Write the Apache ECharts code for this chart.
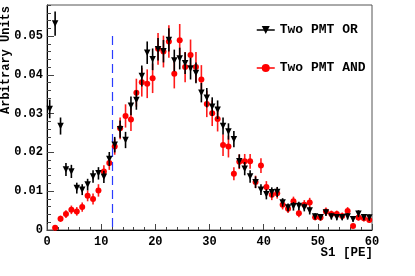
<!DOCTYPE html>
<html>
<head>
<meta charset="utf-8">
<script src="https://cdn.jsdelivr.net/npm/echarts@6/dist/echarts.min.js"></script>
<style>html,body{margin:0;padding:0;background:#fff;}#c{width:415px;height:276px;}</style>
</head>
<body>
<div id="c"></div>
<script>
// Bin centres, S1 [PE]
var binCenters = [0.5,1.5,2.5,3.5,4.5,5.5,6.5,7.5,8.5,9.5,10.5,11.5,12.5,13.5,14.5,15.5,16.5,17.5,18.5,19.5,
  20.5,21.5,22.5,23.5,24.5,25.5,26.5,27.5,28.5,29.5,30.5,31.5,32.5,33.5,34.5,35.5,36.5,37.5,38.5,39.5,
  40.5,41.5,42.5,43.5,44.5,45.5,46.5,47.5,48.5,49.5,50.5,51.5,52.5,53.5,54.5,55.5,56.5,57.5,58.5,59.5];

// Two PMT OR
var orValues = [0.0312,0.0532,0.0268,0.0156,0.0151,0.0108,0.0104,0.0117,0.0138,0.0146,
  0.0137,0.0183,0.0220,0.0260,0.0232,0.0320,0.0335,0.0397,0.0457,0.0440,
  0.0466,0.0461,0.0490,0.0437,0.0442,0.0430,0.0416,0.0405,0.0354,0.0341,
  0.0318,0.0310,0.0268,0.0254,0.0234,0.0177,0.0158,0.0138,0.0123,0.0104,
  0.0092,0.0097,0.0098,0.0071,0.0058,0.0061,0.0062,0.0058,0.0050,0.0035,
  0.0033,0.0045,0.0035,0.0033,0.0033,0.0035,0.0028,0.0042,0.0033,0.0032];
var orErrors = [0.0024,0.0031,0.0022,0.0017,0.0017,0.0014,0.0014,0.0015,0.0016,0.0016,
  0.0016,0.0018,0.0020,0.0022,0.0021,0.0024,0.0025,0.0027,0.0029,0.0028,
  0.0029,0.0029,0.0030,0.0028,0.0028,0.0028,0.0028,0.0027,0.0025,0.0025,
  0.0024,0.0024,0.0022,0.0021,0.0021,0.0018,0.0017,0.0016,0.0015,0.0014,
  0.0013,0.0013,0.0013,0.0011,0.0010,0.0011,0.0011,0.0010,0.0010,0.0008,
  0.0008,0.0009,0.0008,0.0008,0.0008,0.0008,0.0007,0.0009,0.0008,0.0008];

// Two PMT AND
var andValues = [null,0.0006,0.0029,0.0041,0.0052,0.0048,0.0059,0.0088,0.0080,0.0102,
  0.0151,0.0173,0.0215,0.0262,0.0294,0.0285,0.0354,0.0381,0.0377,0.0391,
  0.0467,0.0460,0.0486,0.0403,0.0489,0.0420,0.0451,0.0420,0.0388,0.0325,
  0.0301,0.0286,0.0219,0.0215,0.0145,0.0176,0.0177,0.0177,0.0124,0.0166,
  0.0111,0.0091,0.0095,0.0065,0.0055,0.0074,0.0043,0.0065,0.0071,0.0033,
  0.0032,0.0048,0.0041,0.0041,0.0036,0.0049,0.0010,0.0032,0.0030,0.0026];
var andErrors = [null,0.0004,0.0008,0.0010,0.0011,0.0011,0.0012,0.0014,0.0014,0.0016,
  0.0016,0.0018,0.0021,0.0028,0.0030,0.0030,0.0036,0.0037,0.0037,0.0038,
  0.0041,0.0041,0.0042,0.0038,0.0042,0.0039,0.0040,0.0039,0.0037,0.0034,
  0.0033,0.0032,0.0028,0.0028,0.0017,0.0019,0.0019,0.0019,0.0016,0.0019,
  0.0015,0.0014,0.0014,0.0012,0.0011,0.0012,0.0010,0.0012,0.0012,0.0008,
  0.0008,0.0010,0.0009,0.0009,0.0009,0.0010,0.0005,0.0008,0.0008,0.0007];

var xTickValues = [0,10,20,30,40,50,60];
var yTickLabels = ['0','0.01','0.02','0.03','0.04','0.05'];
var xTitle = 'S1 [PE]';
var yTitle = 'Arbitrary Units';
var cutPosition = 12;
var cutTop = 0.05;

var FONT = 'Liberation Mono';

function pts(vals){ var o=[]; for(var i=0;i<binCenters.length;i++){ if(vals[i]!=null) o.push([binCenters[i], vals[i]]); } return o; }
function errPts(vals, errs){ var o=[]; for(var i=0;i<binCenters.length;i++){ if(vals[i]!=null) o.push([binCenters[i], vals[i], errs[i]]); } return o; }
function errRender(color){
  return function(params, api){
    var x=api.value(0), y=api.value(1), e=api.value(2);
    var p1=api.coord([x,y-e]), p2=api.coord([x,y+e]);
    return {type:'line', shape:{x1:p1[0],y1:p1[1],x2:p2[0],y2:p2[1]}, style:{stroke:color,lineWidth:1.6}};
  };
}

var chart = echarts.init(document.getElementById('c'), null, {renderer:'canvas'});
chart.setOption({
  animation:false,
  backgroundColor:'#fff',
  grid:[
    {left:47, right:43, top:5, bottom:46, show:true, borderColor:'#555', borderWidth:1, backgroundColor:'transparent', containLabel:false, outerBoundsMode:'none'},
    {left:47, right:43, top:5, bottom:46, containLabel:false, outerBoundsMode:'none'}
  ],
  graphic:[
    {type:'text', x:373, y:253, silent:true,
     style:{text:xTitle, fontFamily:FONT, fontWeight:'bold', fontSize:12.5, fill:'#000', align:'right', verticalAlign:'middle'}},
    {type:'text', x:6, y:6, rotation:Math.PI/2, silent:true,
     style:{text:yTitle, fontFamily:FONT, fontWeight:'bold', fontSize:12, fill:'#000', align:'right', verticalAlign:'middle'}}
  ],
  legend:{
    orient:'vertical', left:251, top:18, itemWidth:18, itemHeight:10, itemGap:24,
    data:['Two PMT OR','Two PMT AND'],
    textStyle:{fontFamily:FONT, fontWeight:'bold', fontSize:13, color:'#000', lineHeight:14},
    lineStyle:{width:1.5, opacity:1},
    selectedMode:false
  },
  xAxis:[
    {type:'value', gridIndex:0, min:0, max:60, interval:10,
     axisLine:{lineStyle:{color:'#000', width:1}},
     axisTick:{inside:true, length:6, lineStyle:{color:'#444'}},
     minorTick:{show:true, splitNumber:5, length:3, lineStyle:{color:'#444'}},
     splitLine:{show:false},
     axisLabel:{margin:6, fontFamily:FONT, fontWeight:'bold', fontSize:12, color:'#000',
       formatter:function(v){ return xTickValues.indexOf(v)>=0 ? String(v) : ''; }}
    },
    {type:'value', gridIndex:1, min:0, max:60, show:false}
  ],
  yAxis:[
    {type:'value', gridIndex:0, min:0, max:0.058, interval:0.01,
     axisLine:{show:true, lineStyle:{color:'#000', width:1}},
     axisTick:{inside:true, length:7, lineStyle:{color:'#444'}},
     splitLine:{show:false},
     axisLabel:{margin:4, showMaxLabel:false, fontFamily:FONT, fontWeight:'bold', fontSize:12, color:'#000',
       formatter:function(v){ var k=Math.round(v*100); if(Math.abs(v*100-k)>1e-6) return ''; return yTickLabels[k]||''; }}
    },
    {type:'value', gridIndex:1, min:0, max:0.058, interval:0.002, position:'left',
     axisLine:{show:false}, axisLabel:{show:false}, splitLine:{show:false},
     axisTick:{show:true, inside:true, length:4, lineStyle:{color:'#444'}}
    }
  ],
  series:[
    {type:'custom', name:'andErr', xAxisIndex:0, yAxisIndex:0, renderItem:errRender('#ff1a1a'), data:errPts(andValues, andErrors), silent:true, z:2},
    {type:'line', name:'Two PMT AND', xAxisIndex:0, yAxisIndex:0, data:pts(andValues),
     symbol:'circle', symbolSize:6, showSymbol:true, showAllSymbol:true,
     itemStyle:{color:'#ff0000'}, lineStyle:{width:0, color:'#ff0000'}, silent:true, z:3},
    {type:'custom', name:'orErr', xAxisIndex:0, yAxisIndex:0, renderItem:errRender('#000'), data:errPts(orValues, orErrors), silent:true, z:4},
    {type:'line', name:'Two PMT OR', xAxisIndex:0, yAxisIndex:0, data:pts(orValues),
     symbol:'triangle', symbolRotate:180, symbolSize:6.5, showSymbol:true, showAllSymbol:true,
     itemStyle:{color:'#000'}, lineStyle:{width:0, color:'#000'}, silent:true, z:5,
     markLine:{silent:true, symbol:['none','none'], label:{show:false},
       lineStyle:{color:'#2a3cff', type:[9,5], width:1.2},
       emphasis:{disabled:true},
       data:[[{coord:[cutPosition, cutTop]},{coord:[cutPosition, 0]}]]}
    }
  ]
});
</script>
</body>
</html>
